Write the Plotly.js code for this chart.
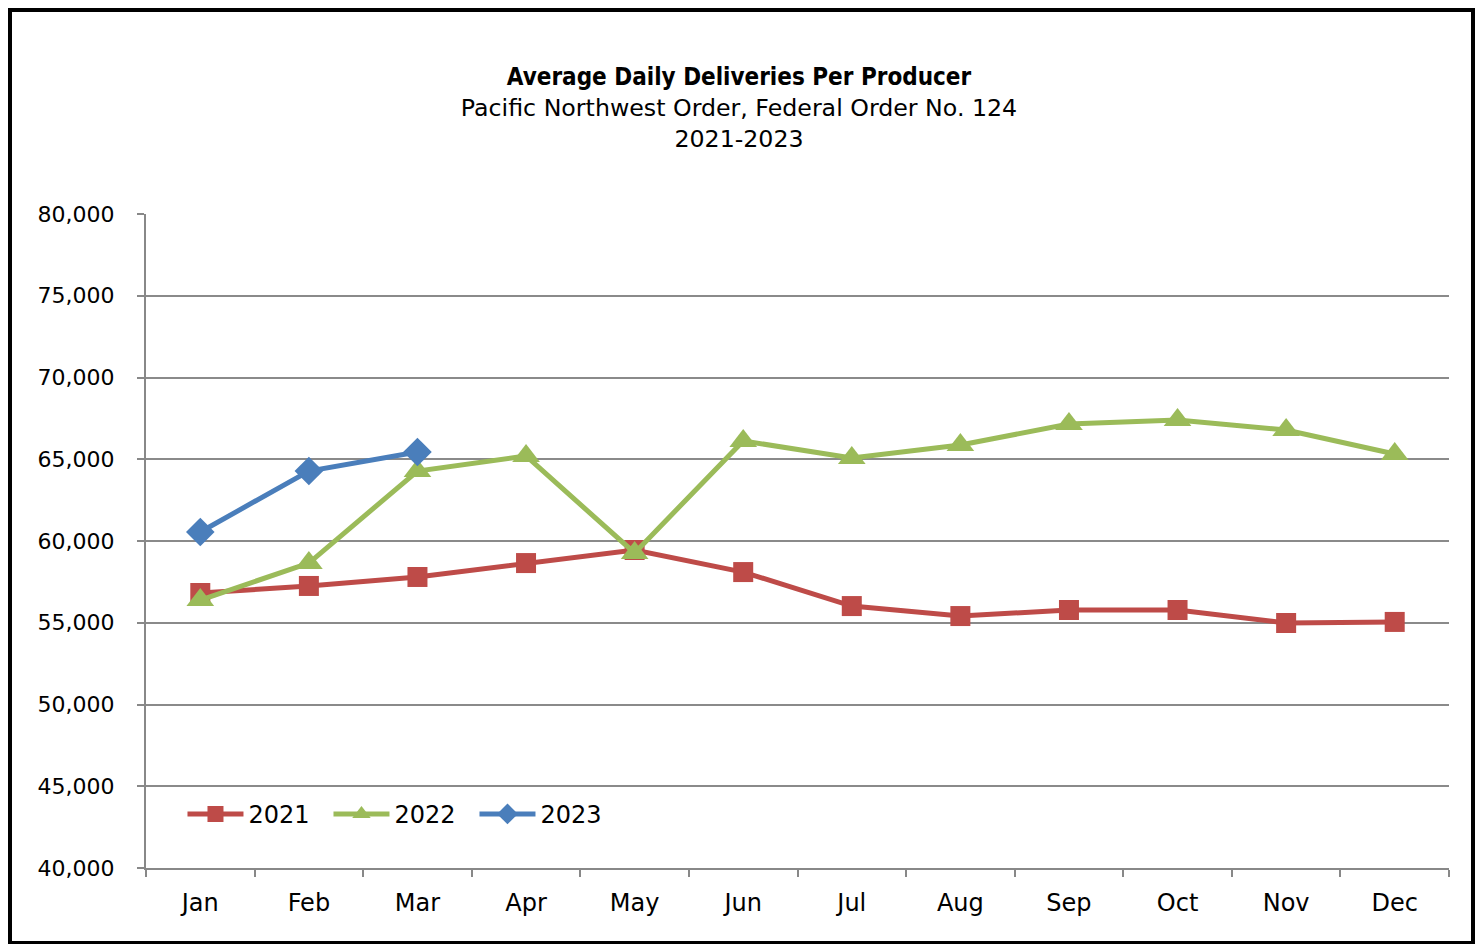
<!DOCTYPE html>
<html><head><meta charset="utf-8">
<script src="https://cdn.plot.ly/plotly-3.0.1.min.js"></script>
<style>
html,body{margin:0;padding:0;background:#fff;}
#wrap{position:relative;width:1478px;height:944px;}
#chart{position:absolute;left:0;top:0;width:1478px;height:944px;}
#frame{position:absolute;left:8px;top:8px;width:1459px;height:929px;border:4px solid #000;pointer-events:none;}
</style></head>
<body>
<div id="wrap"><div id="chart"></div><div id="frame"></div></div>
<script>
const months = ["Jan","Feb","Mar","Apr","May","Jun","Jul","Aug","Sep","Oct","Nov","Dec"];
const y2021 = [56820,57250,57800,58650,59450,58100,56020,55410,55780,55780,54985,55050];
const y2022 = [56390,58650,64280,65200,59270,66120,65080,65870,67160,67400,66790,65320];
const y2023 = [60550,64280,65440];
const yTicks = [40000,45000,50000,55000,60000,65000,70000,75000,80000];

const FONT = "DejaVu Sans, sans-serif";
const traces = [
  {x: months, y: y2021, name: "2021", type: "scatter", mode: "lines+markers",
   line: {color: "#BE4B48", width: 5}, marker: {symbol: "square", size: 20, color: "#BE4B48"}},
  {x: months, y: y2022, name: "2022", type: "scatter", mode: "lines+markers",
   line: {color: "#9BBB59", width: 5}, marker: {symbol: "triangle-up", size: 24, color: "#9BBB59"}},
  {x: months.slice(0, y2023.length), y: y2023, name: "2023", type: "scatter", mode: "lines+markers",
   line: {color: "#4A7EBB", width: 5}, marker: {symbol: "diamond", size: 22, color: "#4A7EBB"}}
];
const layout = {
  width: 1478, height: 944,
  margin: {l: 146, r: 29, t: 214, b: 76},
  paper_bgcolor: "#fff", plot_bgcolor: "#fff",
  font: {family: FONT, size: 22, color: "#000"},
  title: {
    text: "<b><span style='font-family:DejaVu Sans Condensed;font-size:24px'>Average Daily Deliveries Per Producer</span></b><br>Pacific Northwest Order, Federal Order No. 124<br>2021-2023",
    x: 0.5, xanchor: "center", y: 0.91, yanchor: "top",
    font: {family: FONT, size: 23.7, color: "#000"}
  },
  xaxis: {
    type: "category", categoryorder: "array", categoryarray: months,
    range: [-0.5, 11.5], tickson: "boundaries", ticks: "outside", ticklen: 7,
    tickcolor: "#888", tickwidth: 2, showline: true, linecolor: "#888", linewidth: 2,
    showgrid: false, zeroline: false, tickfont: {family: FONT, size: 24, color: "#000"},
    ticklabelstandoff: 12
  },
  yaxis: {
    range: [40000, 80000], tickvals: yTicks, tickformat: ",d",
    ticks: "outside", ticklen: 7, tickcolor: "#888", tickwidth: 2,
    showline: true, linecolor: "#888", linewidth: 2,
    showgrid: true, gridcolor: "#8a8a8a", gridwidth: 2, zeroline: false,
    tickfont: {family: FONT, size: 22, color: "#000"}, ticklabelstandoff: 18
  },
  showlegend: true,
  legend: {
    orientation: "h", x: 0.028, y: 0.082, xanchor: "left", yanchor: "middle",
    bgcolor: "rgba(0,0,0,0)", font: {family: FONT, size: 24, color: "#000"},
    itemwidth: 56, entrywidth: 75, entrywidthmode: "pixels", tracegroupgap: 0
  },
  separators: ".,"
};
Plotly.newPlot("chart", traces, layout, {displayModeBar: false, staticPlot: true});
</script>
</body></html>
